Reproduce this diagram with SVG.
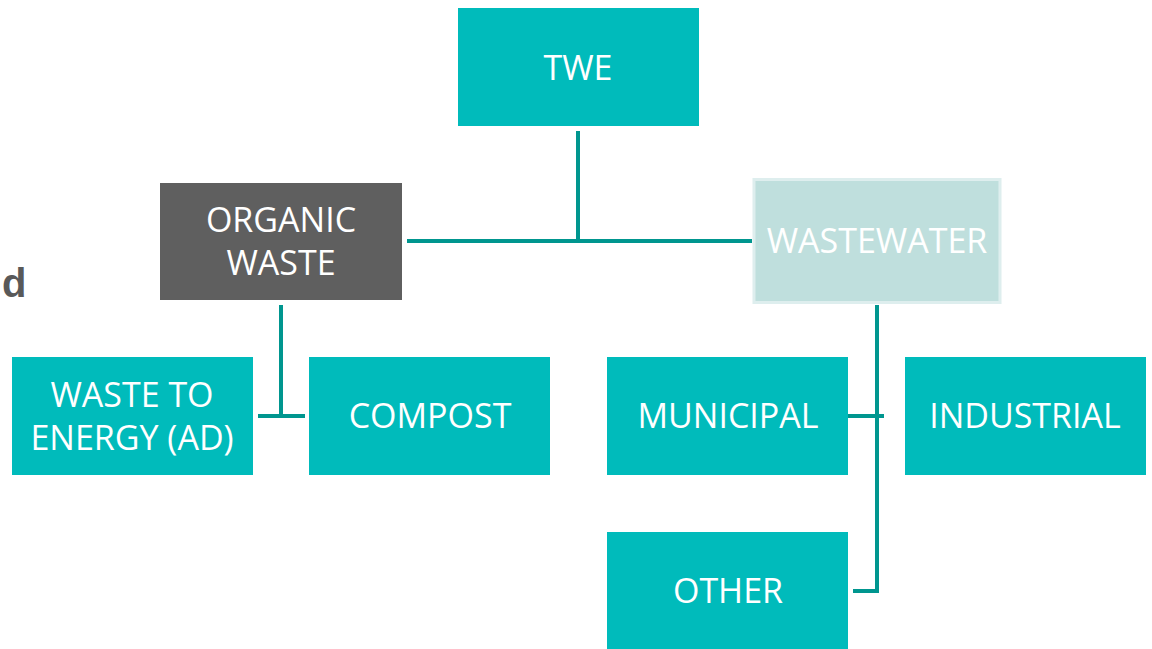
<svg xmlns="http://www.w3.org/2000/svg" width="1152" height="649" viewBox="0 0 1152 649">
<style>
.box{fill:#00bbbb}
.t{font-family:"Open Sans",sans-serif;font-size:34px;fill:#ffffff;text-anchor:middle}
.c{stroke:#00968f;stroke-width:4;fill:none}
</style>
<rect width="1152" height="649" fill="#ffffff"/>
<text x="2" y="297" font-family="Liberation Sans, sans-serif" font-weight="bold" font-size="40" fill="#595959">d</text>
<g id="connectors">
<path class="c" d="M578 131V241M407 241H752"/>
<path class="c" d="M281 305V416M258 416H305"/>
<path class="c" d="M877 305V591H853M840 416H884"/>
</g>
<g id="twe"><rect class="box" x="458" y="8" width="241" height="118"/><text class="t" x="578" y="80">TWE</text></g>
<g id="organic"><rect x="160" y="183" width="242" height="117" fill="#5f5f5f"/><text class="t" x="281" y="232">ORGANIC</text><text class="t" x="281" y="275">WASTE</text></g>
<g id="wastewater"><rect x="754" y="179.5" width="246" height="123" fill="#bfdfdd" stroke="#deeeee" stroke-width="3"/><text class="t" x="877" y="253">WASTEWATER</text></g>
<g id="wte"><rect class="box" x="12" y="357" width="241" height="118"/><text class="t" x="132" y="407">WASTE TO</text><text class="t" x="132" y="450">ENERGY (AD)</text></g>
<g id="compost"><rect class="box" x="309" y="357" width="241" height="118"/><text class="t" x="430" y="428">COMPOST</text></g>
<g id="municipal"><rect class="box" x="607" y="357" width="241" height="118"/><text class="t" x="728" y="428">MUNICIPAL</text></g>
<g id="industrial"><rect class="box" x="905" y="357" width="241" height="118"/><text class="t" x="1025" y="428">INDUSTRIAL</text></g>
<g id="other"><rect class="box" x="607" y="532" width="241" height="117"/><text class="t" x="728" y="603">OTHER</text></g>
</svg>
